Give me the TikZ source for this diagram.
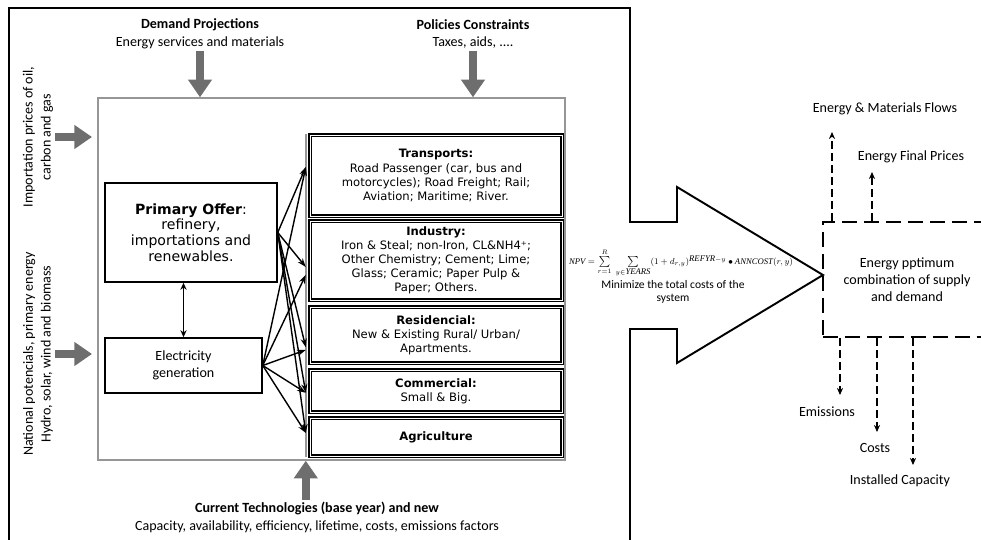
\documentclass[tikz,border=0pt]{standalone}
\usepackage{fontspec}
\setmainfont{Carlito}
\newfontfamily\verdfont{DejaVu Sans}
\newfontfamily\timesfont{Liberation Serif}
\usetikzlibrary{arrows.meta}
\newlength\pxu
\setlength\pxu{0.02cm}
\newcommand{\tvar}[1]{\mbox{\timesfont\itshape #1}}
\definecolor{arrowgray}{RGB}{110,110,110}
\definecolor{framegray}{RGB}{150,150,150}

\begin{document}
\begin{tikzpicture}[x=0.02cm, y=-0.02cm,
  every node/.style={font=\fontsize{8}{10.2}\selectfont, inner sep=1pt},
  bigarrow/.style={draw=arrowgray, line width=4.5pt, -{Triangle[length=10pt,width=13pt]}},
  supply/.style={draw, line width=0.85pt, align=center},
  sector/.style={draw, double, double distance=0.5pt, line width=0.8pt, minimum width=252\pxu, inner sep=0pt, align=center, font=\verdfont\fontsize{6.6}{8}\selectfont},
  flow/.style={line width=0.8pt, -{Stealth[length=5pt,width=3.5pt]}},
  optbox/.style={draw, dash pattern=on 8.5pt off 4pt, line width=1.6pt, align=center, font=\fontsize{8}{9.6}\selectfont},
  outflow/.style={line width=0.9pt, dash pattern=on 4.5pt off 2.3pt, -{Stealth[length=4pt,width=3.5pt]}}]
  \useasboundingbox (0,0) rectangle (981,540);

  % Outer frame, ending in the big arrow
  \draw[line width=1.1pt] (9,540) -- (9,8) -- (630,8) -- (630,222) -- (677,222) -- (677,187)
    -- (823,275) -- (677,363) -- (677,329) -- (630,329) -- (630,540);

  % Model box
  \node[draw=framegray, line width=0.8pt, minimum width=467\pxu, minimum height=362\pxu] (model) at (331.5,279) {};

  % Supply boxes
  \node[supply, minimum width=172\pxu, minimum height=99\pxu, font=\verdfont\fontsize{8}{9}\selectfont] (prim) at (191,232.5)
    {\textbf{Primary Offer}:\\refinery,\\importations and\\renewables.};
  \node[supply, minimum width=157\pxu, minimum height=55\pxu, font=\fontsize{8}{9.6}\selectfont] (elec) at (183.5,365.5)
    {Electricity\\generation};
  \draw[line width=0.8pt, {Stealth[length=4pt,width=3.5pt]}-{Stealth[length=4pt,width=3.5pt]}] (elec.north) -- (elec.north |- prim.south);

  % Sector boxes
  \node[sector, minimum height=81\pxu] (trans) at (436,175.5)
    {\textbf{Transports:}\\Road Passenger (car, bus and\\motorcycles); Road Freight; Rail;\\Aviation; Maritime; River.};
  \node[sector, minimum height=79\pxu] (indus) at (436,260.5)
    {\textbf{Industry:}\\Iron \& Steal; non-Iron, CL\&NH4⁺;\\Other Chemistry; Cement; Lime;\\Glass; Ceramic; Paper Pulp \&\\Paper; Others.};
  \node[sector, minimum height=56\pxu] (resid) at (436,335)
    {\textbf{Residencial:}\\New \& Existing Rural/ Urban/\\Apartments.};
  \node[sector, minimum height=42\pxu] (comm) at (436,391)
    {\textbf{Commercial:}\\Small \& Big.};
  \node[sector, minimum height=38\pxu] (agri) at (436,437)
    {\textbf{Agriculture}};
  \draw[framegray, line width=1.2pt] ([xshift=-2pt]trans.north west) -- ([xshift=-2pt]agri.south west);

  % Flows from supply to sectors
  \draw[flow] (prim.east) -- ([xshift=-2pt,yshift=4.8pt]trans.west);
  \draw[flow] (prim.east) -- ([xshift=-2pt,yshift=-3.7pt]indus.west);
  \draw[flow] (prim.east) -- ([xshift=-2pt,yshift=-7pt]resid.west);
  \draw[flow] (prim.east) -- ([xshift=-2pt,yshift=-1pt]comm.west);
  \draw[flow] (prim.east) -- ([xshift=-2pt,yshift=2.3pt]agri.west);
  \draw[flow] (elec.east) -- ([xshift=-2pt,yshift=4.8pt]trans.west);
  \draw[flow] (elec.east) -- ([xshift=-2pt,yshift=-8.2pt]indus.west);
  \draw[flow] (elec.east) -- ([xshift=-2pt,yshift=-8.5pt]resid.west);
  \draw[flow] (elec.east) -- ([xshift=-2pt,yshift=-1pt]comm.west);
  \draw[flow] (elec.east) -- ([xshift=-2pt,yshift=2.3pt]agri.west);

  % Inputs
  \node[align=center] (dem) at (200,34) {\textbf{Demand Projections}\\Energy services and materials};
  \draw[bigarrow] (dem.south) -- (dem.south |- model.north);
  \node[align=center] (pol) at (473,34) {\textbf{Policies Constraints}\\Taxes, aids, ....};
  \draw[bigarrow] (pol.south) -- (pol.south |- model.north);
  \node[rotate=90, align=center] (imp) at (38,137) {Importation prices of oil,\\carbon and gas};
  \draw[bigarrow, shorten >=3pt] (imp.south) -- (imp.south -| model.west);
  \node[rotate=90, align=center] (nat) at (38,354) {National potencials, primary energy\\Hydro, solar, wind and biomass};
  \draw[bigarrow, shorten >=3pt] (nat.south) -- (nat.south -| model.west);
  \node[align=center] (tech) at (317,517) {\textbf{Current Technologies (base year) and new}\\Capacity, availability, efficiency, lifetime, costs, emissions factors};
  \draw[bigarrow] ([xshift=-2pt]tech.north -| agri.west) -- ([xshift=-2pt]model.south -| agri.west);

  % Objective function
  \node (npv) at (681,263)
    {\resizebox{224\pxu}{!}{$\tvar{NPV}=\sum\limits_{r=1}^{R}\;\sum\limits_{y\in \tvar{YEARS}}(1+d_{r,y})^{\tvar{REFYR}-y}\bullet \tvar{ANNCOST}(r,y)$}};
  \node[align=center, font=\fontsize{6.6}{7.4}\selectfont] (minim) at (673,292) {Minimize the total costs of the\\system};

  % Optimum box and outputs
  \node[optbox, minimum width=168\pxu, minimum height=115\pxu] (optim) at (907,279.5)
    {Energy pptimum\\combination of supply\\and demand};
  \node (flows) at (885,109) {Energy \& Materials Flows};
  \node (prices) at (911,157) {Energy Final Prices};
  \node (emis) at (827,412) {Emissions};
  \node (costs) at (875,448) {Costs};
  \node (capac) at (900,481) {Installed Capacity};
  \coordinate (flowsend) at (832,132);
  \coordinate (pricesend) at (872,172);
  \coordinate (emisend) at (840,395);
  \coordinate (costsend) at (877,432);
  \coordinate (capacend) at (913,465);
  \draw[outflow] (optim.north -| flowsend) -- (flowsend);
  \draw[outflow] (optim.north -| pricesend) -- (pricesend);
  \draw[outflow] (optim.south -| emisend) -- (emisend);
  \draw[outflow] (optim.south -| costsend) -- (costsend);
  \draw[outflow] (optim.south -| capacend) -- (capacend);
\end{tikzpicture}
\end{document}
